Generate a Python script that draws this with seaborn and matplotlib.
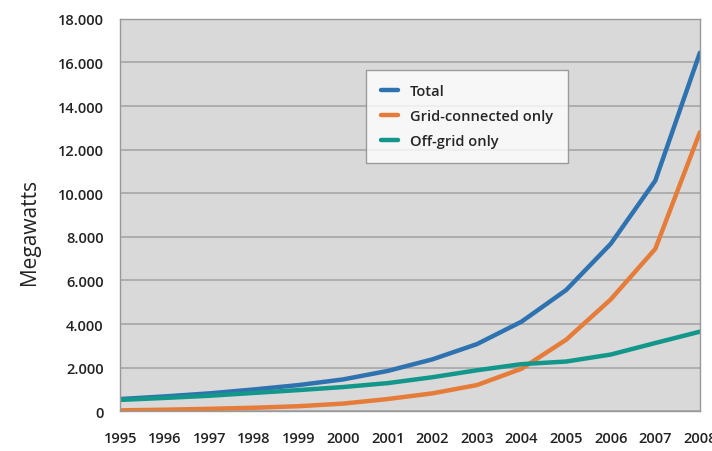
import matplotlib
matplotlib.use("Agg")
import matplotlib.pyplot as plt
import seaborn as sns
import pandas as pd
from matplotlib.ticker import FuncFormatter, MultipleLocator

years = [1995, 1996, 1997, 1998, 1999, 2000, 2001, 2002, 2003, 2004, 2005, 2006, 2007, 2008]
total = [560, 680, 820, 1000, 1200, 1460, 1850, 2380, 3080, 4110, 5560, 7680, 10580, 16450]
grid_connected = [40, 70, 110, 160, 230, 350, 560, 820, 1200, 1950, 3280, 5130, 7450, 12800]
off_grid = [520, 610, 710, 840, 970, 1110, 1290, 1560, 1880, 2160, 2280, 2600, 3130, 3650]

series_names = ["Total", "Grid-connected only", "Off-grid only"]
colors = ["#2f72b0", "#e57c3a", "#12978a"]

df = pd.DataFrame({"Year": years * 3,
                   "MW": total + grid_connected + off_grid,
                   "Series": [series_names[0]] * len(years) + [series_names[1]] * len(years) + [series_names[2]] * len(years)})

sns.set_theme(style="white")
plt.rcParams['font.family'] = ['Open Sans', 'DejaVu Sans']

fig = plt.figure(figsize=(7.12, 4.52), dpi=100)
ax = fig.add_axes([0.169, 0.088, 0.814, 0.868])
ax.set_facecolor("#d9d9d9")

sns.lineplot(data=df, x="Year", y="MW", hue="Series", palette=colors, linewidth=3.2, ax=ax)

ax.set_xlim(1995, 2008)
ax.set_ylim(0, 18000)
ax.yaxis.set_major_locator(MultipleLocator(2000))
ax.yaxis.set_major_formatter(FuncFormatter(lambda v, p: f"{int(v):,}".replace(",", ".")))
ax.set_xticks(years)
ax.set_xticklabels([str(y) for y in years])
ax.grid(axis="y", color="#a6a6a6", linewidth=1.2)
ax.set_axisbelow(True)
for s in ax.spines.values():
    s.set_color("#999999")
    s.set_linewidth(1.0)
ax.tick_params(axis="both", labelsize=10.5, length=4, width=0.8, direction="out")
ax.tick_params(axis="x", colors="#999999", labelcolor="#222222", pad=10)
ax.tick_params(axis="y", colors="#999999", labelcolor="#222222", pad=8)
for lbl in ax.get_xticklabels() + ax.get_yticklabels():
    lbl.set_fontweight("semibold")
    lbl.set_fontstretch("condensed")
ax.set_xlabel("")
ax.set_ylabel("Megawatts", fontsize=15, color="#222222")
ax.yaxis.set_label_coords(-0.138, 0.46)

leg = ax.legend(loc="upper left", bbox_to_anchor=(0.424, 0.87), borderaxespad=0, frameon=True, fancybox=False,
                edgecolor="#888888", fontsize=10.5, handlelength=1.2, borderpad=1.0, labelspacing=0.75,
                title=None)
for t in leg.get_texts():
    t.set_fontweight("semibold")
leg.get_frame().set_linewidth(1.0)

fig.savefig("out.png", dpi=100)
